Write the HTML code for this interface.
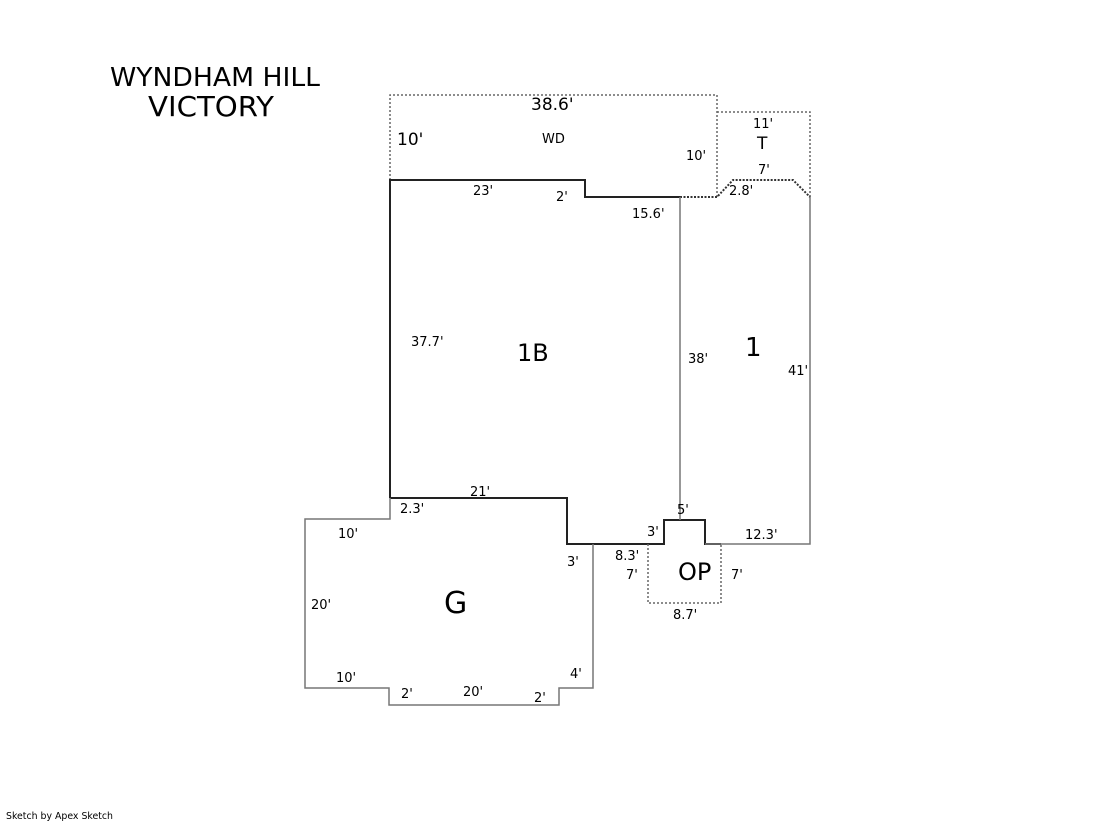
<!DOCTYPE html>
<html><head><meta charset="utf-8"><style>
body{margin:0;background:#fff;width:1119px;height:821px;overflow:hidden}
svg text{font-family:"DejaVu Sans","Liberation Sans",sans-serif;fill:#000}
</style></head><body>
<svg width="1119" height="821" xmlns="http://www.w3.org/2000/svg">
<g fill="none" stroke-linejoin="miter">
<path d="M390,180 V95 H717 V197" stroke="#666" stroke-width="1.5" stroke-dasharray="2,2"/>
<path d="M717,112 H810 V197" stroke="#666" stroke-width="1.5" stroke-dasharray="2,2"/>
<path d="M680,197 H717 L733,180 H793 L810,197" stroke="#333" stroke-width="2" stroke-dasharray="2,1.5"/>
<path d="M390,498 V180 H585 V197 H680" stroke="#222" stroke-width="2"/>
<path d="M390,498 H567 V544 H593 H664 V520 H705 V544 H721" stroke="#222" stroke-width="2"/>
<path d="M680,197 V520 M810,197 V544 H705" stroke="#777" stroke-width="1.5"/>
<path d="M390,498 V519 H305 V688 H389 V705 H559 V688 H593 V544" stroke="#777" stroke-width="1.5"/>
<path d="M648,544 V603 H721 V544" stroke="#666" stroke-width="1.5" stroke-dasharray="2,2"/>
</g>
<text x="110" y="86" font-size="26" textLength="210" lengthAdjust="spacingAndGlyphs">WYNDHAM HILL</text>
<text x="148" y="116" font-size="28" textLength="126" lengthAdjust="spacingAndGlyphs">VICTORY</text>
<g font-size="13">
<text x="531" y="110" font-size="17">38.6'</text>
<text x="397" y="145" font-size="17">10'</text>
<text x="542" y="143">WD</text>
<text x="686" y="160">10'</text>
<text x="753" y="128">11'</text>
<text x="757" y="149" font-size="17">T</text>
<text x="758" y="174">7'</text>
<text x="729" y="195">2.8'</text>
<text x="473" y="195">23'</text>
<text x="556" y="201">2'</text>
<text x="632" y="218">15.6'</text>
<text x="411" y="346">37.7'</text>
<text x="517" y="361" font-size="24">1B</text>
<text x="688" y="363">38'</text>
<text x="745" y="356" font-size="26">1</text>
<text x="788" y="375">41'</text>
<text x="470" y="496">21'</text>
<text x="400" y="513">2.3'</text>
<text x="677" y="514">5'</text>
<text x="647" y="536">3'</text>
<text x="745" y="539">12.3'</text>
<text x="338" y="538">10'</text>
<text x="615" y="560">8.3'</text>
<text x="567" y="566">3'</text>
<text x="626" y="579">7'</text>
<text x="678" y="580" font-size="24">OP</text>
<text x="731" y="579">7'</text>
<text x="311" y="609">20'</text>
<text x="444" y="613" font-size="30">G</text>
<text x="673" y="619">8.7'</text>
<text x="570" y="678">4'</text>
<text x="336" y="682">10'</text>
<text x="463" y="696">20'</text>
<text x="401" y="698">2'</text>
<text x="534" y="702">2'</text>
</g>
<text x="6" y="819" font-size="10" textLength="107" lengthAdjust="spacingAndGlyphs">Sketch by Apex Sketch</text>
</svg>
</body></html>
